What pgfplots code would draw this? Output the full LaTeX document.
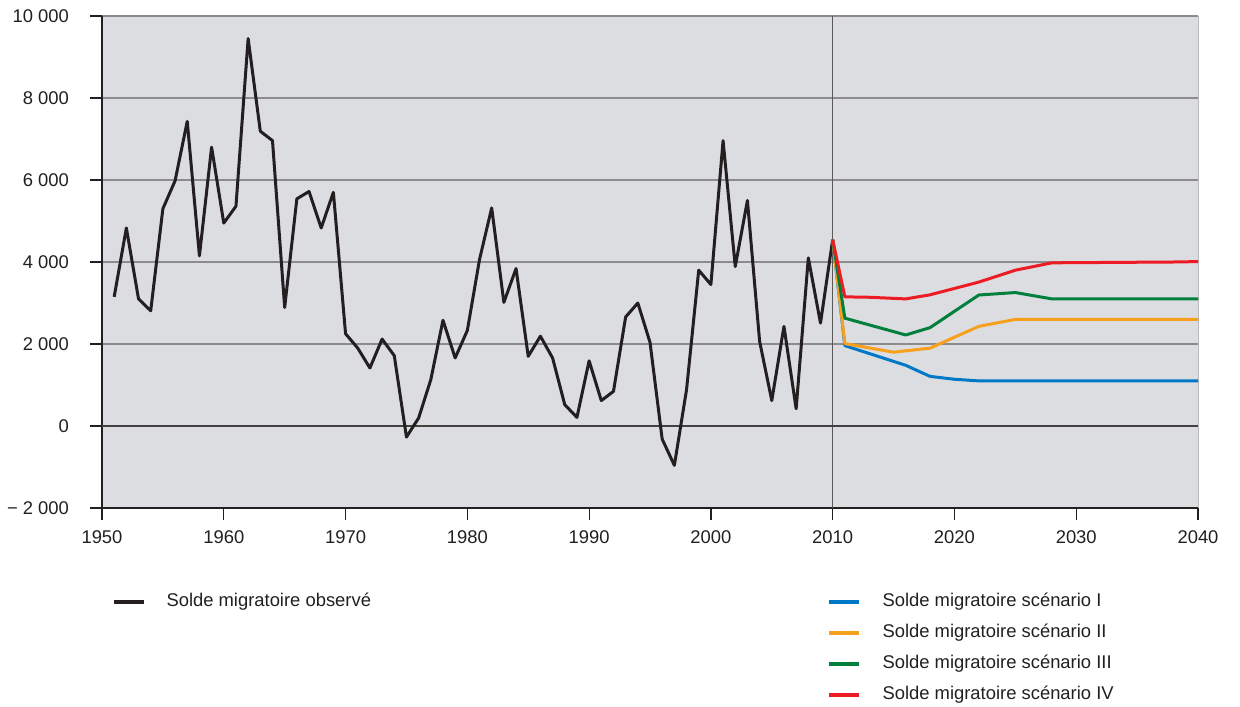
\documentclass[border=0pt]{standalone}
\usepackage{fontspec}
\setmainfont{Liberation Sans}
\usepackage{pgfplots}
\pgfplotsset{compat=1.18}

\definecolor{obs}{RGB}{35,31,32}
\definecolor{sc1}{RGB}{0,120,200}
\definecolor{sc2}{RGB}{247,160,30}
\definecolor{sc3}{RGB}{0,128,60}
\definecolor{sc4}{RGB}{237,28,36}
\definecolor{bg}{RGB}{220,221,224}
\definecolor{gridc}{RGB}{140,140,140}

\pgfplotsset{
  leg/.style={
    legend cell align=left,
    legend style={draw=none, fill=none, inner sep=0pt, row sep=7pt,
      font=\fontsize{9.2}{11}\selectfont, text=obs,
      nodes={inner sep=0pt, text height=6.6pt, text depth=1.9pt}},
    legend image code/.code={
      \draw[##1, line width=2pt] (0pt,0pt) -- (15pt,0pt);
      \path (26pt,0pt);}
  }
}

\begin{document}
\begin{tikzpicture}
\useasboundingbox (-51pt,-99pt) rectangle (569pt,254pt);
\begin{axis}[
  at={(0pt,0pt)}, anchor=south west,
  scale only axis, width=548pt, height=246pt,
  xmin=1950, xmax=2040, ymin=-2000, ymax=10000,
  axis x line*=bottom, axis y line*=left,
  axis line style={draw=obs, line width=0.6pt},
  axis background/.style={fill=bg, draw=gridc!60, line width=0.4pt},
  xtick={1950,1960,...,2040},
  ytick={-2000,0,...,10000},
  yticklabels={− 2 000,0,2 000,4 000,6 000,8 000,10 000},
  scaled y ticks=false, scaled x ticks=false,
  x tick label style={/pgf/number format/1000 sep=, yshift=-2pt},
  y tick label style={xshift=-7pt},
  /pgf/number format/assume math mode=true,
  tick align=outside, major tick length=6pt,
  tick style={draw=obs, line width=0.6pt},
  ticklabel style={font=\fontsize{9.2}{11}\selectfont, text=obs},
  ymajorgrids, major grid style={draw=gridc, line width=0.6pt},
  extra y ticks={0}, extra y tick labels={},
  extra y tick style={major grid style={draw=obs!85, line width=0.7pt}, major tick length=0pt},
  extra x ticks={2010}, extra x tick labels={},
  extra x tick style={xmajorgrids, major grid style={draw=obs!75, line width=0.6pt}, major tick length=0pt},
  every axis plot/.append style={line join=round},
  leg,
  legend style={at={(axis description cs:0.6612,-0.1732)}, anchor=north west},
]
\addplot[obs, line width=1.5pt, forget plot] coordinates {
(1951,3150) (1952,4830) (1953,3100) (1954,2810) (1955,5300) (1956,5980)
(1957,7430) (1958,4150) (1959,6800) (1960,4950) (1961,5360) (1962,9450)
(1963,7190) (1964,6960) (1965,2890) (1966,5540) (1967,5720) (1968,4830)
(1969,5700) (1970,2250) (1971,1900) (1972,1415) (1973,2120) (1974,1715)
(1975,-270) (1976,195) (1977,1130) (1978,2580) (1979,1660) (1980,2330)
(1981,4060) (1982,5320) (1983,3015) (1984,3840) (1985,1700) (1986,2190)
(1987,1660) (1988,520) (1989,210) (1990,1590) (1991,620) (1992,845)
(1993,2660) (1994,3000) (1995,2040) (1996,-320) (1997,-960) (1998,885)
(1999,3800) (2000,3450) (2001,6960) (2002,3890) (2003,5500) (2004,2065)
(2005,620) (2006,2430) (2007,420) (2008,4100) (2009,2510) (2010,4545)
};
\addplot[sc1, line width=1.5pt] coordinates {
(2010,4545) (2011,1960) (2016,1480) (2018,1210) (2020,1140) (2022,1100) (2040,1100)
};
\addlegendentry{Solde migratoire scénario I}
\addplot[sc2, line width=1.5pt] coordinates {
(2010,4545) (2011,2010) (2015,1800) (2018,1900) (2022,2430) (2025,2600) (2040,2600)
};
\addlegendentry{Solde migratoire scénario II}
\addplot[sc3, line width=1.5pt] coordinates {
(2010,4545) (2011,2630) (2016,2220) (2018,2400) (2022,3195) (2025,3255) (2028,3100) (2040,3100)
};
\addlegendentry{Solde migratoire scénario III}
\addplot[sc4, line width=1.5pt] coordinates {
(2010,4545) (2011,3150) (2013,3140) (2016,3100) (2018,3200) (2022,3510) (2025,3800) (2028,3980) (2038,4000) (2040,4010)
};
\addlegendentry{Solde migratoire scénario IV}
\end{axis}
\begin{axis}[
  at={(0pt,0pt)}, anchor=south west,
  scale only axis, width=548pt, height=246pt,
  xmin=0, xmax=1, ymin=0, ymax=1, hide axis,
  leg,
  legend style={at={(axis description cs:0.00885,-0.1732)}, anchor=north west},
]
\addlegendimage{obs}
\addlegendentry{Solde migratoire observé}
\end{axis}
\end{tikzpicture}
\end{document}
